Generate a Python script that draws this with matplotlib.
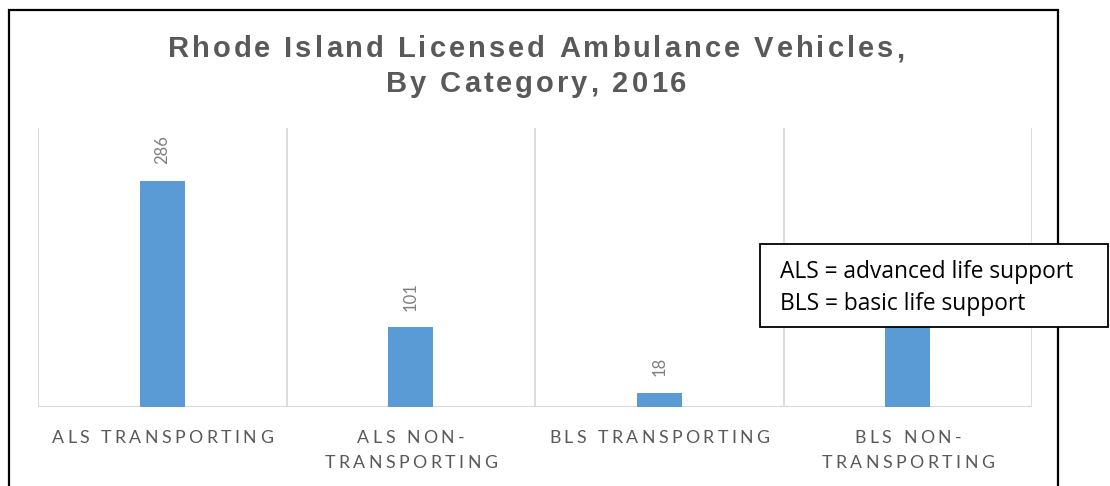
import matplotlib
matplotlib.use("Agg")
import matplotlib.pyplot as plt
from matplotlib.patches import Rectangle
from matplotlib.font_manager import FontProperties, findfont, get_font

categories = [["ALS TRANSPORTING"],
              ["ALS NON-", "TRANSPORTING"],
              ["BLS TRANSPORTING"],
              ["BLS NON-", "TRANSPORTING"]]
values = [286, 101, 18, 125]
title_lines = ["Rhode Island Licensed Ambulance Vehicles,", "By Category, 2016"]
note_lines = ["ALS = advanced life support", "BLS = basic life support"]

W, H = 1110, 486
DPI = 100
fig = plt.figure(figsize=(W / DPI, H / DPI), dpi=DPI)


def fx(px):
    return px / W


def fy(py):
    # py measured from top of picture
    return 1 - py / H


def spaced_text(x_px, y_px, s, gap, family, size, weight="normal", color="#595959"):
    # draw text char by char so letters get extra spacing, y_px is the baseline
    fp = FontProperties(family=family, size=size, weight=weight)
    font = get_font(findfont(fp))
    font.set_size(size, DPI)
    adv = []
    for ch in s:
        g = font.load_char(ord(ch))
        adv.append(g.linearHoriAdvance / 65536)
    total = sum(adv) + gap * (len(s) - 1)
    x = x_px - total / 2
    for ch, a in zip(s, adv):
        fig.text(fx(x), fy(y_px), ch, fontproperties=fp, color=color,
                 ha="left", va="baseline")
        x += a + gap


# plot area
ax = fig.add_axes([fx(38), 1 - 407 / H, fx(1032 - 38), (407 - 128) / H])
xs = list(range(len(values)))
ax.bar(xs, values, width=0.18, color="#5b9bd5", zorder=2)
ax.set_xlim(-0.5, len(values) - 0.5)
ax.set_ylim(0, 353)
for i in range(len(values) + 1):
    ax.axvline(i - 0.5, color="#d9d9d9", lw=1.3, zorder=1)
ax.axhline(0, color="#d9d9d9", lw=1.6, zorder=1)
for sp in ax.spines.values():
    sp.set_visible(False)
ax.set_xticks([])
ax.set_yticks([])

for x, v in zip(xs, values):
    ax.annotate(str(v), (x, v), xytext=(0, 12), textcoords="offset points",
                rotation=90, ha="center", va="bottom", color="#7f7f7f",
                family="Lato", fontsize=12)

# category labels
for x, lines in zip(xs, categories):
    cx = ax.transData.transform((x, 0))[0]
    for k, line in enumerate(lines):
        spaced_text(cx, 443 + 25 * k, line, 3.4, "Lato", 12.8)

# title
for k, line in enumerate(title_lines):
    spaced_text(536, 57 + 35 * k, line, 3.0, "Liberation Sans", 21, weight="bold")

# outer frame
fig.patches.append(Rectangle((fx(9), fy(H + 10)), fx(1058 - 9), fy(10) - fy(H + 10),
                             transform=fig.transFigure, fill=False,
                             edgecolor="black", lw=1.6, zorder=3))

# note box (covers the last bar's label, as in the source)
fig.patches.append(Rectangle((fx(760), fy(327)), fx(1108 - 760), fy(244) - fy(327),
                             transform=fig.transFigure, facecolor="white",
                             edgecolor="black", lw=1.3, zorder=5))
for k, line in enumerate(note_lines):
    fig.text(fx(780), fy(272 + 32 * k), line, ha="left", va="center",
             family="Open Sans", fontsize=16.4, color="black", zorder=6)

fig.savefig("out.png", dpi=DPI)
